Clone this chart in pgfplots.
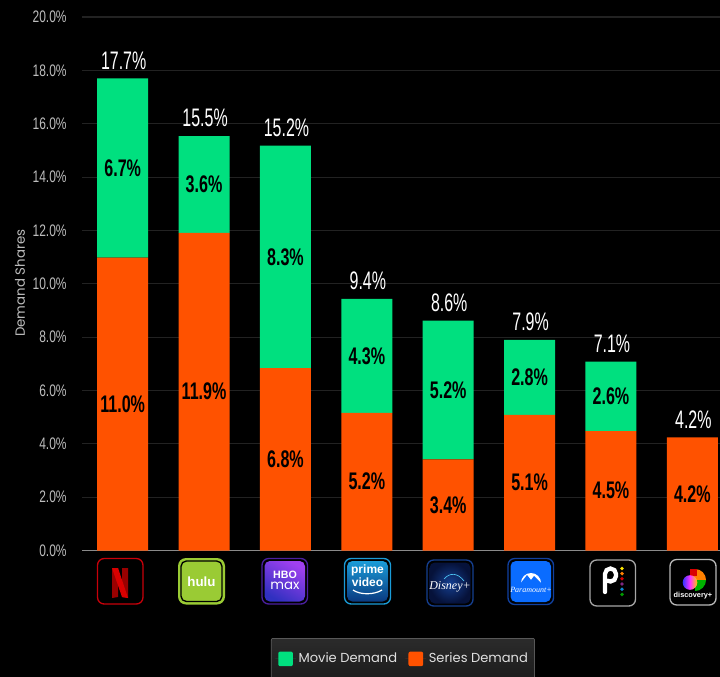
\documentclass[border=0pt]{standalone}
\usepackage{pgfplots}
\usepackage{pgfplotstable}
\usepackage{fontspec}
\pgfplotsset{compat=1.18}
\setmainfont{Poppins}
\newfontfamily\tickfont[FakeStretch=0.72]{Liberation Sans}
\newfontfamily\totalfont[FakeStretch=0.63]{Liberation Sans}
\newfontfamily\segfont[FakeStretch=0.67,BoldFont={}]{Liberation Sans Bold}
\newfontfamily\logofont{Liberation Sans Bold}
\newfontfamily\logoitalic{Liberation Serif Italic}

\definecolor{moviegreen}{HTML}{00E07F}
\definecolor{seriesorange}{HTML}{FF5200}
\definecolor{gridgray}{HTML}{222222}
\definecolor{axisgray}{HTML}{8A8A8A}
\definecolor{ticktext}{HTML}{BDBDBD}
\definecolor{legendtop}{HTML}{2B2B2B}
\definecolor{legendbot}{HTML}{1C1C1C}
\definecolor{legendline}{HTML}{5A5A5A}

% demand shares per streaming service, in percent
\pgfplotstableread{
pos series movie
0   10.98  6.72
1   11.91  3.62
2   6.84   8.34
3   5.16   4.27
4   3.42   5.20
5   5.08   2.82
6   4.48   2.60
7   4.24   0.00
}\demand

\pgfplotsset{
  chartframe/.style={
    at={(61.5pt,-412.875pt)}, anchor=south west, scale only axis,
    width=478.5pt, height=400.125pt,
    xmin=-0.5, xmax=7.34, ymin=0, ymax=20,
  },
  valuelabel/.style={
    draw=none, mark=none, forget plot,
    point meta=explicit,
    nodes near coords={\pgfmathprintnumber[fixed,fixed zerofill,precision=1,/pgf/number format/assume math mode=true]{\pgfplotspointmeta}\%},
  },
}

\begin{document}
\begin{tikzpicture}[x=0.75pt,y=-0.75pt]
\useasboundingbox (0,0) rectangle (720,677);
\fill[black] (0,0) rectangle (720,677);
\clip (0,0) rectangle (720,677);

% stacked bars with grid, axis and legend
\begin{axis}[
  chartframe,
  ybar stacked,
  bar width=38.25pt,
  axis x line*=bottom,
  axis y line*=left,
  y axis line style={draw=none},
  x axis line style={draw=axisgray,line width=0.9pt},
  xtick=\empty,
  ytick={0,2,...,20},
  major tick length=0pt,
  ymajorgrids,
  major grid style={draw=gridgray,line width=0.8pt},
  yticklabel={\pgfmathprintnumber[fixed,fixed zerofill,precision=1,/pgf/number format/assume math mode=true]{\tick}\%},
  yticklabel style={font=\tickfont\fontsize{12.5}{12.5}\selectfont,text=ticktext,xshift=-8pt},
  ylabel={Demand Shares},
  ylabel style={at={(axis description cs:-0.097,0.501)},anchor=center,font=\fontsize{10}{10}\selectfont,text=ticktext},
  reverse legend,
  legend columns=2,
  legend style={
    at={(axis description cs:0.2962,-0.164)}, anchor=north west,
    top color=legendtop, bottom color=legendbot,
    draw=legendline, rounded corners=1.5pt,
    font=\fontsize{9.8}{9.8}\selectfont, text=white!88!black,
    inner xsep=3pt, inner ysep=9pt,
    /tikz/every even column/.append style={column sep=4.25pt},
  },
  legend image code/.code={\fill[#1] (0pt,-5.5pt) rectangle (11pt,5.5pt); \path (-2.25pt,0pt) -- (13.25pt,0pt);},
]
\addplot[fill=seriesorange,draw=none] table[x=pos,y=series]{\demand};
\addlegendentry{Series Demand}
\addplot[fill=moviegreen,draw=none] table[x=pos,y=movie]{\demand};
\addlegendentry{Movie Demand}
\end{axis}

% value labels: segment shares centred in each segment, totals above the bars
\begin{axis}[chartframe,hide axis,clip=false]
\addplot[valuelabel,
  nodes near coords style={anchor=center,font=\segfont\fontsize{18}{18}\selectfont,text=black}]
  table[x=pos,y expr=\thisrow{series}/2,meta expr=\thisrow{series}]{\demand};
\addplot[valuelabel,restrict x to domain=0:6,
  nodes near coords style={anchor=center,font=\segfont\fontsize{18}{18}\selectfont,text=black}]
  table[x=pos,y expr=\thisrow{series}+\thisrow{movie}/2,meta=movie]{\demand};
\addplot[valuelabel,
  nodes near coords style={anchor=center,yshift=13.5pt,xshift=0.75pt,font=\totalfont\fontsize{19}{19}\selectfont,text=white}]
  table[x=pos,y expr=\thisrow{series}+\thisrow{movie},meta expr=\thisrow{series}+\thisrow{movie}]{\demand};
\end{axis}

% service logos under the bars
% Netflix
\definecolor{netc}{HTML}{C8000A}
\draw[netc,line width=1pt,rounded corners=5pt] (97.5,558.5) rectangle (143,604);
\fill[red!60!black] (112,568)--(118,568)--(118,597)--(112,598)--cycle;
\fill[red!60!black] (122,568)--(128,568)--(128,598)--(122,597)--cycle;
\fill[red!85!black] (112,568)--(118,568)--(128,598)--(122,597)--cycle;
% Hulu
\definecolor{huluc}{HTML}{9ACB34}
\fill[huluc,rounded corners=6pt] (178,558) rectangle (225,604.5);
\draw[black,line width=1pt,rounded corners=4pt] (181,561) rectangle (222,601.5);
\node[white,font=\logofont\fontsize{10}{10}\selectfont] at (201.5,581.5) {hulu};
% HBO Max
\definecolor{hboc}{HTML}{4B1FA0}
\definecolor{hbol}{HTML}{A040F0}
\definecolor{hbor}{HTML}{3030C0}
\draw[hboc,line width=1pt,rounded corners=5pt] (262,558.5) rectangle (307.5,604);
\shade[left color=hbol,right color=hbor,shading angle=-30,rounded corners=4pt] (264.5,561) rectangle (305,601.5);
\node[white,font=\logofont\fontsize{8}{8}\selectfont,inner sep=0pt] at (285,575) {HBO};
\node[white,font=\fontsize{10}{10}\selectfont,inner sep=0pt] at (285,586) {max};
% Prime Video
\definecolor{primec}{HTML}{1A9CD8}
\definecolor{primed}{HTML}{0A3A80}
\draw[primec,line width=1pt,rounded corners=5pt] (344.5,558.5) rectangle (390.5,604);
\shade[top color=primec,bottom color=primed,rounded corners=4pt] (347,561) rectangle (388,601.5);
\node[white,font=\logofont\fontsize{9}{9}\selectfont] at (367.5,570) {prime};
\node[white,font=\logofont\fontsize{9}{9}\selectfont] at (367.5,582.5) {video};
\draw[white,line width=0.9pt] (353,590) .. controls (360,595) and (374,595) .. (382,590);
% Disney+
\definecolor{disneyc}{HTML}{153F90}
\definecolor{disneyd}{HTML}{06123A}
\draw[disneyc,line width=1pt,rounded corners=5pt] (427,560) rectangle (473,606);
\shade[inner color=disneyc,outer color=disneyd,rounded corners=4pt] (429.5,562.5) rectangle (470.5,603.5);
\draw[cyan!70!white,line width=0.5pt] (444,579) .. controls (450,572) and (458,573) .. (464,581);
\node[white,font=\logoitalic\fontsize{9}{9}\selectfont] at (450,587) {Disney+};
% Paramount+
\definecolor{paramc}{HTML}{0A6CFF}
\definecolor{paramo}{HTML}{1040A0}
\draw[paramo,line width=1pt,rounded corners=5pt] (508,558.5) rectangle (553.5,604.5);
\fill[paramc,rounded corners=4pt] (510.5,561) rectangle (551,602);
\fill[white] (521,583) arc[start angle=180,end angle=360,radius=10];
\fill[paramc] (520,584)--(527,575)--(531,580)--(534,576)--(542,584)--cycle;
\node[white,font=\logoitalic\fontsize{6}{6}\selectfont,inner sep=0pt] at (531,589.5) {Paramount+};
% Peacock
\draw[draw=white!65!black,line width=1pt,rounded corners=5pt] (590,560) rectangle (635.5,606);
\draw[white,line width=3.2pt,line cap=round] (605,592) -- (605,574) arc[start angle=180,end angle=360,radius=5.5] -- (616,576) arc[start angle=0,end angle=120,radius=5.5];
\foreach \yy/\cc in {568.5/yellow!90!orange,573.6/orange,578.8/red!85!black,584/violet!70!gray,589.2/cyan!70!blue,594.4/green!60!black}
  \fill[\cc] (622,\yy) circle[radius=1.9];
% discovery+
\draw[draw=white!72!black,line width=1pt,rounded corners=5pt] (670,559.5) rectangle (716,605);
\fill[orange] (690,569) -- (695,569) arc[start angle=270,end angle=360,radius=11] -- (695,580) -- cycle;
\fill[red!85!black] (690,569) rectangle (697,576);
\fill[green!70!black] (706,580) arc[start angle=0,end angle=90,radius=11] -- (695,580) -- cycle;
\shade[left color=blue!80!white,right color=yellow!80!red,middle color=magenta!80!white] (690,582.5) circle[radius=7.3];
\node[white,font=\logofont\fontsize{5.5}{5.5}\selectfont,inner sep=0pt] at (693,595.5) {discovery+};
\end{tikzpicture}
\end{document}
